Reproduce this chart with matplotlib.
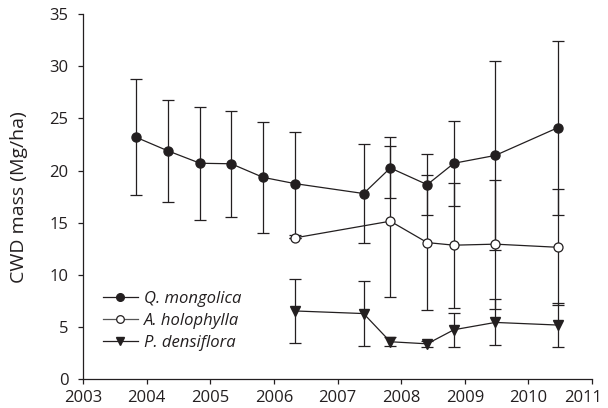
import matplotlib
matplotlib.use("Agg")
import matplotlib.pyplot as plt
import matplotlib.transforms as mtransforms
from matplotlib.lines import Line2D

# Data
q_years = [2003.83, 2004.33, 2004.84, 2005.33, 2005.83, 2006.33, 2007.41, 2007.83, 2008.41, 2008.83, 2009.48, 2010.46]
q_mass = [23.2, 21.9, 20.7, 20.65, 19.35, 18.75, 17.8, 20.25, 18.65, 20.7, 21.45, 24.1]
q_err = [5.55, 4.9, 5.4, 5.1, 5.3, 4.9, 4.75, 2.92, 2.9, 4.05, 9.05, 8.33]

a_years = [2006.33, 2007.83, 2008.41, 2008.83, 2009.48, 2010.46]
a_mass = [13.55, 15.15, 13.1, 12.85, 12.95, 12.65]
a_err = [0.0, 7.25, 6.43, 5.97, 6.19, 5.55]

p_years = [2006.33, 2007.41, 2007.83, 2008.41, 2008.83, 2009.48, 2010.46]
p_mass = [6.55, 6.3, 3.6, 3.4, 4.75, 5.45, 5.2]
p_err = [3.1, 3.1, 0.45, 0.3, 1.65, 2.2, 2.15]

labels = ['Q. mongolica', 'A. holophylla', 'P. densiflora']
x_ticks = [2003, 2004, 2005, 2006, 2007, 2008, 2009, 2010, 2011]
y_ticks = [0, 5, 10, 15, 20, 25, 30, 35]

plt.rcParams['font.family'] = ['Open Sans', 'DejaVu Sans']
ink = '#231f20'

fig = plt.figure(figsize=(6.08, 4.08), dpi=100)
ax = fig.add_axes([0.1365, 0.0703, 0.8372, 0.8954])

common = dict(color=ink, ecolor=ink, elinewidth=0.9, capsize=4, capthick=0.9,
              linewidth=0.9, markersize=6.5)
ax.errorbar(q_years, q_mass, yerr=q_err, marker='o', markerfacecolor=ink,
            markeredgecolor=ink, zorder=3, **common)
ax.errorbar(a_years, a_mass, yerr=a_err, marker='o', markerfacecolor='white',
            markeredgecolor=ink, markeredgewidth=0.9, zorder=4, **common)
ax.errorbar(p_years, p_mass, yerr=p_err, marker='v', markerfacecolor=ink,
            markeredgecolor=ink, zorder=5, **common)

ax.set_xlim(2003, 2011)
ax.set_ylim(0, 35)
ax.set_xticks(x_ticks)
ax.set_yticks(y_ticks)
ax.set_xticklabels([str(t) for t in x_ticks])
ax.set_yticklabels([str(t) for t in y_ticks])
ax.tick_params(direction='out', length=3.6, width=0.9, color=ink, labelsize=12, labelcolor=ink)
ax.tick_params(axis='x', pad=4)
ax.tick_params(axis='y', pad=7)
for s in ['top', 'right']:
    ax.spines[s].set_visible(False)
for s in ['left', 'bottom']:
    ax.spines[s].set_linewidth(0.9)
    ax.spines[s].set_color(ink)

# last x tick label sits slightly left of its tick, as in the reference
last = ax.get_xticklabels()[-1]
last.set_transform(last.get_transform() + mtransforms.ScaledTranslation(-9 / 100, 0, fig.dpi_scale_trans))

ax.set_ylabel('CWD mass (Mg/ha)', fontsize=14, color=ink)
ax.yaxis.set_label_coords(-0.108, 0.5)

handles = [
    Line2D([], [], color=ink, linewidth=0.9, marker='o', markersize=5.5,
           markerfacecolor=ink, markeredgecolor=ink),
    Line2D([], [], color='#555555', linewidth=0.9, marker='o', markersize=5.5,
           markerfacecolor='white', markeredgecolor=ink, markeredgewidth=0.9),
    Line2D([], [], color=ink, linewidth=0.9, marker='v', markersize=5.5,
           markerfacecolor=ink, markeredgecolor=ink),
]
leg = ax.legend(handles, labels, loc='center left', bbox_to_anchor=(0.039, 0.16), frameon=False,
                borderpad=0, borderaxespad=0, handlelength=2.1, handletextpad=0.36,
                labelspacing=0.38, prop={'style': 'italic', 'size': 12})
for t in leg.get_texts():
    t.set_color(ink)

fig.savefig('out.png', dpi=100)
